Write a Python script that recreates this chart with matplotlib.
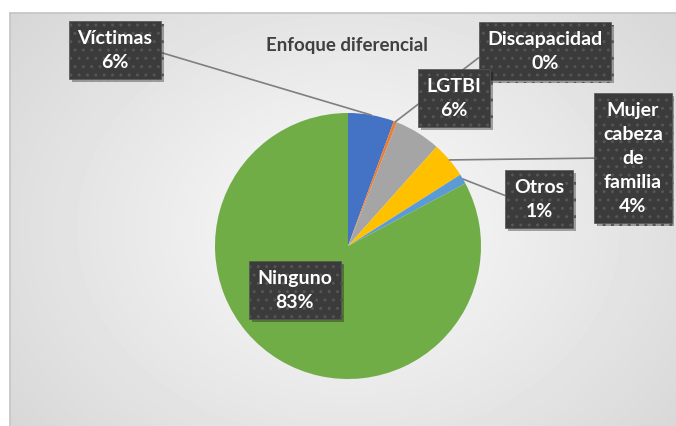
import matplotlib.pyplot as plt
import matplotlib.patheffects as pe
import numpy as np

# datos del grafico
categorias = ['Víctimas', 'Discapacidad', 'LGTBI', 'Mujer\ncabeza\nde\nfamilia', 'Otros', 'Ninguno']
valores = [5.6, 0.4, 5.6, 4.4, 1.2, 82.8]
colores = ['#4472C4', '#ED7D31', '#A5A5A5', '#FFC000', '#5B9BD5', '#70AD47']
titulo = 'Enfoque diferencial'

plt.rcParams['font.family'] = ['Lato', 'DejaVu Sans']

W, H = 676, 427
fig = plt.figure(figsize=(W / 100, H / 100), dpi=100)

# fondo con degradado radial
bg = fig.add_axes([10 / W, 0, (W - 10) / W, (H - 14) / H])
yy, xx = np.mgrid[0:413, 0:666]
r = np.hypot((xx - 338) / 420, (yy - 215) / 330)
grad = 0.985 - 0.14 * np.clip(r, 0, 1.2)
bg.imshow(grad, cmap='gray', vmin=0, vmax=1, aspect='auto', interpolation='bilinear')
bg.set_xticks([])
bg.set_yticks([])
for s in ['right', 'bottom']:
    bg.spines[s].set_visible(False)
for s in ['top', 'left']:
    bg.spines[s].set_color('#c4c4c4')
    bg.spines[s].set_linewidth(1.2)

# pie: centro (348, 247) px, radio 133 px
cx, cy, rad = 348, 247, 133
ax = fig.add_axes([(cx - rad) / W, (H - cy - rad) / H, 2 * rad / W, 2 * rad / H])
wedges, _ = ax.pie(valores, colors=colores, startangle=90, counterclock=False,
                   radius=1, wedgeprops=dict(linewidth=0))
ax.set_xlim(-1, 1)
ax.set_ylim(-1, 1)
ax.axis('off')

fig.text(347 / W, 1 - 45 / H, titulo, ha='center', va='center', fontsize=13.5,
         fontweight='bold', color='#404040')


def px(x, y):
    return (x - cx) / rad, (cy - y) / rad


# posiciones de las etiquetas (centro de la caja, px) y origen de la linea guia
etq_pos = [(115, 51), (545, 52), (454, 99), (633, 159), (539, 200), (295, 291)]
guia = [(1, 0.5), (0, 0.5), None, (0, 0.5), (0, 0.5), None]

caja = dict(boxstyle='square,pad=0.45', facecolor='#3b3b3b', edgecolor='#555555',
            linewidth=0.5, hatch='..')

for w, cat, val, pos, rel in zip(wedges, categorias, valores, etq_pos, guia):
    ang = np.deg2rad((w.theta1 + w.theta2) / 2)
    punto = (np.cos(ang), np.sin(ang))
    texto = '%s\n%d%%' % (cat, round(val))
    if rel is None:
        t = ax.text(*px(*pos), texto, ha='center', va='center', color='white',
                    fontsize=14, fontweight='bold', bbox=caja, linespacing=1.5)
    else:
        t = ax.annotate(texto, xy=punto, xytext=px(*pos), ha='center', va='center',
                        color='white', fontsize=14, fontweight='bold', bbox=caja,
                        linespacing=1.5, annotation_clip=False,
                        arrowprops=dict(arrowstyle='-', color='#7f7f7f', lw=1.2,
                                        relpos=rel, shrinkA=0, shrinkB=0))
    t.get_bbox_patch().set_path_effects([pe.SimplePatchShadow(offset=(2, -2), alpha=0.35),
                                         pe.Normal()])

fig.savefig('out.png', dpi=100)
